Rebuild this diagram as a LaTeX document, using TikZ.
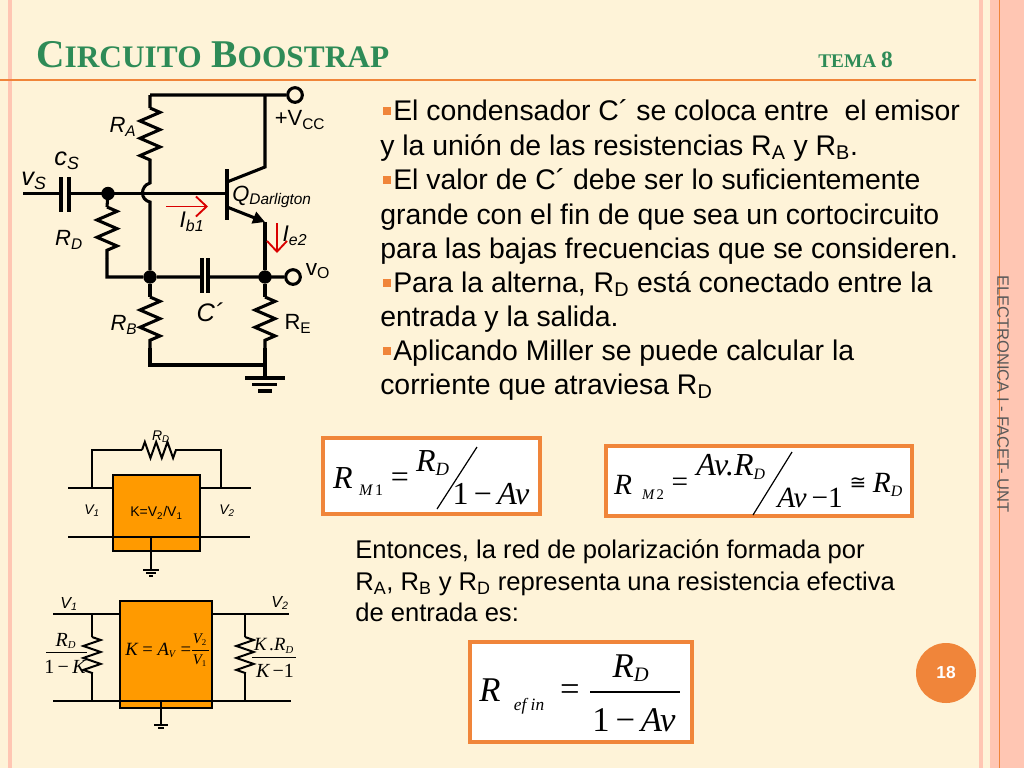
\documentclass[tikz,border=0pt]{standalone}
\usepackage{fontspec}
\setmainfont{Liberation Sans}
\newfontfamily\timesfam{Liberation Serif}
\usetikzlibrary{arrows.meta,decorations.pathmorphing}
\definecolor{creambg}{HTML}{FEF3D8}
\definecolor{pinkbar}{HTML}{FFC6B3}
\definecolor{orangeline}{HTML}{F0853A}
\definecolor{titlegreen}{HTML}{2E8B57}
\definecolor{amplibox}{HTML}{FF9A00}
\newcommand{\fs}[1]{\fontsize{#1}{#1}\selectfont}
\newcommand{\mi}[2]{{\timesfam\itshape\fs{#1}#2}}
\newcommand{\mr}[2]{{\timesfam\fs{#1}#2}}
\begin{document}
\begin{tikzpicture}[x=0.75pt,y=-0.75pt]
  \tikzstyle{wire}=[line width=2.3pt]
  \tikzstyle{thinwire}=[line width=1.5pt]
  \tikzstyle{resbig}=[wire,decorate,decoration={zigzag,amplitude=7.5pt,segment length=12.98pt}]
  \tikzstyle{ressmall}=[thinwire,decorate,decoration={zigzag,amplitude=6pt,segment length=8.48pt}]
  \tikzstyle{joindot}=[circle,fill=black,inner sep=0pt,minimum size=10pt]
  \tikzstyle{terminal}=[circle,draw,line width=2.3pt,fill=creambg,inner sep=0pt,minimum size=11pt]
  \tikzstyle{label}=[inner sep=0pt,font=\fs{16.5}]
  \tikzstyle{smalllabel}=[inner sep=0pt,font=\fs{10.5}]
  \tikzstyle{bodyline}=[inner sep=0pt,anchor=base west,font=\fs{21.3}]
  \tikzstyle{lowerline}=[inner sep=0pt,anchor=base west,font=\fs{19.2}]
  \tikzstyle{bulletmark}=[fill=orangeline,inner sep=0pt,minimum size=6pt]
  \tikzstyle{formulabox}=[draw=orangeline,line width=2.3pt,fill=white]
  \tikzstyle{amp}=[draw,line width=0.8pt,fill=amplibox]
  \tikzstyle{sym}=[inner sep=0pt]
  \tikzstyle{redarrow}=[red!85!black,line width=1.4pt,-{Straight Barb[length=8pt,width=15pt]}]

  % slide background
  \fill[creambg] (0,0) rectangle (1024,768);
  \useasboundingbox (0,0) rectangle (1024,768);
  \fill[pinkbar] (8,0) rectangle (12,768);
  \fill[pinkbar] (979,0) rectangle (983,768);
  \fill[pinkbar] (990,0) rectangle (1024,768);
  \draw[orangeline,line width=0.75pt] (999,0) -- (999,768);
  \draw[orangeline,line width=1.2pt] (0,80) -- (976,80);

  % title
  \node (title) [sym,anchor=base west,text=titlegreen] at (36,67)
    {\timesfam\bfseries\fs{29.5}C{\fs{23.5}IRCUITO} B{\fs{23.5}OOSTRAP}};
  \node (tema) [sym,anchor=base west,text=titlegreen] at (818,67)
    {\timesfam\bfseries\fs{14.5}TEMA \fs{17.5}8};
  \node (side) [sym,rotate=-90,font=\fs{12.4},text=black!65] at (1003,394) {ELECTRONICA I - FACET- UNT};

  % circuit points
  \foreach \name/\px/\py in {tl/150/95, cj/265/95, ra1/150/108, ra2/150/160, bumpa/150/183, bumpb/150/202,
      inl/23/193.5, csa/61/193.5, csb/69/193.5, qb/227/193.5, rd1/107/207, rd2/107/258, rdc/107/277,
      cpa/202/277, cpb/208/277, rb1/150/297, rb2/150/348, rbc/150/365, re1/265/297, re2/265/348,
      gnd/265/365, gndb/265/378, qc/227/182, qcu/265/167, qe/227/207, qeu/265/222,
      g1a/245/378, g1b/285/378, g2a/252/384.5, g2b/277/384.5, g3a/258/391, g3b/272/391,
      qbt/227/169, qbb/227/220, csat/61/177, csab/61/212, csbt/69/177, csbb/69/212,
      cpat/202/258, cpab/202/293, cpbt/208/258, cpbb/208/293,
      iba/166/206.5, ibb/208/206.5, iea/277/223, ieb/277/253}
  {
    \coordinate (\name) at (\px,\py);
  }
  \node (vcc) [terminal] at (295,95) {};
  \node (vo) [terminal] at (293,277) {};
  \node (ndin) [joindot] at (108,193.5) {};
  \node (ndb) [joindot] at (150,277) {};
  \node (nde) [joindot] at (265,277) {};

  \draw[wire] (tl) -- (vcc) (tl) -- (ra1) (ra2) -- (bumpa)
    .. controls (140,186) and (140,200) .. (bumpb) -- (ndb);
  \draw[resbig] (ra1) -- (ra2);
  \draw[wire] (inl) -- (csa) (csb) -- (qb);
  \draw[wire] (csat) -- (csab) (csbt) -- (csbb);
  \draw[wire] (ndin.center) -- (rd1) (rd2) -- (rdc) -- (ndb) -- (cpa) (cpb) -- (vo);
  \draw[resbig] (rd1) -- (rd2);
  \draw[wire] (cpat) -- (cpab) (cpbt) -- (cpbb);
  \draw[wire] (ndb) -- (rb1) (rb2) -- (rbc) -- (gnd) (nde) -- (re1) (re2) -- (gndb);
  \draw[resbig] (rb1) -- (rb2);
  \draw[resbig] (re1) -- (re2);
  \draw[wire] (g1a) -- (g1b) (g2a) -- (g2b) (g3a) -- (g3b);
  \draw[wire] (qbt) -- (qbb);
  \draw[line width=2.3pt] (qc) -- (qcu) -- (cj);
  \draw[line width=2.3pt,-{Stealth[length=9pt,width=9pt,inset=0pt]}] (qe) -- (qeu);
  \draw[wire] (qeu) -- (nde);
  \draw[redarrow] (iba) -- (ibb);
  \draw[redarrow] (iea) -- (ieb);

  \node (lvcc) [label] at (300,120) {+V\textsubscript{CC}};
  \node (lra) [label] at (123,127) {\itshape R\textsubscript{A}};
  \node (lcs) [label,font=\fs{19}] at (67,161) {\itshape c\textsubscript{S}};
  \node (lvs) [label,font=\fs{19}] at (34,181) {\itshape v\textsubscript{S}};
  \node (lrd) [label] at (69,240) {\itshape R\textsubscript{D}};
  \node (lib) [label,font=\fs{17}] at (192,222) {\itshape I\textsubscript{b1}};
  \node (lq) [label,anchor=west] at (232,197) {\itshape Q\textsubscript{Darligton}};
  \node (lie) [label,font=\fs{17}] at (295,236) {\itshape I\textsubscript{e2}};
  \node (lvo) [label,font=\fs{17}] at (318,271) {v\textsubscript{O}};
  \node (lcp) [label,font=\fs{19}] at (210,312) {\itshape C´};
  \node (lrb) [label] at (124,325) {\itshape R\textsubscript{B}};
  \node (lre) [label] at (298,324) {R\textsubscript{E}};

  % explanation
  \foreach \lx/\ly/\txt [count=\n] in {393/120/{El condensador C´ se coloca entre\ \ el emisor},
      380/155/{y la unión de las resistencias R\textsubscript{A} y R\textsubscript{B}.},
      393/189/{El valor de C´ debe ser lo suficientemente},
      380/224/{grande con el fin de que sea un cortocircuito},
      380/258/{para las bajas frecuencias que se consideren.},
      393/292/{Para la alterna, R\textsubscript{D} está conectado entre la},
      380/326/{entrada y la salida.},
      393/360/{Aplicando Miller se puede calcular la},
      380/394/{corriente que atraviesa R\textsubscript{D}}}
  {
    \node (body\n) [bodyline] at (\lx,\ly) {\txt};
  }
  \foreach \ly in {111, 180, 283, 351}
  {
    \node (mark\ly) [bulletmark] at (387,\ly) {};
  }
  \foreach \ly/\txt [count=\n] in {558/{Entonces, la red de polarización formada por},
      590/{R\textsubscript{A}, R\textsubscript{B} y R\textsubscript{D} representa una resistencia efectiva},
      621/{de entrada es:}}
  {
    \node (lower\n) [lowerline] at (355,\ly) {\txt};
  }

  % amplifier with feedback
  \foreach \name/\px/\py in {ain/68/488, ainb/113/488, aout/251/488, aoutb/200/488, afl/92/488, afr/221/488, aful/92/450, afur/221/450,
      arda/142/450, ardb/176/450, abl/68/537, abr/250/537, abm/151/537, agnd/151/570,
      ag1a/143/570, ag1b/159/570, ag2a/146/573, ag2b/156/573, ag3a/149/575.5, ag3b/153/575.5}
  {
    \coordinate (\name) at (\px,\py);
  }
  \node (kbox) [amp,minimum width=65.25pt,minimum height=57pt,inner sep=0pt,font=\fs{10.5}] at (156.5,513) {K=V\textsubscript{2}/V\textsubscript{1}};
  \draw[thinwire] (ain) -- (ainb) (aoutb) -- (aout);
  \draw[thinwire] (afl) -- (aful) -- (arda) (ardb) -- (afur) -- (afr);
  \draw[ressmall] (arda) -- (ardb);
  \draw[thinwire] (abl) -- (abr) (abm) -- (agnd);
  \draw[thinwire] (ag1a) -- (ag1b) (ag2a) -- (ag2b) (ag3a) -- (ag3b);
  \node (ard) [smalllabel] at (161,437) {\itshape R\textsubscript{D}};
  \node (av1) [smalllabel] at (92,511) {\itshape V\textsubscript{1}};
  \node (av2) [smalllabel] at (227,511) {\itshape V\textsubscript{2}};

  % equivalent with miller
  \foreach \name/\px/\py in {bin/53/614, binb/119/614, bout/289/614, boutb/213/614, bl/53/701, br/291/701, bgm/161/701, bgd/161/725,
      rl0/92/614, rl1/92/637, rl2/92/673, rl3/92/701, rr0/245/614, rr1/245/637, rr2/245/673, rr3/245/701,
      bg1a/154/725, bg1b/168/725, bg2a/158/728, bg2b/164/728, fla/46/652, flb/87/652, fra/252/657, frb/296/657,
      kfa/192/650, kfb/209/650}
  {
    \coordinate (\name) at (\px,\py);
  }
  \node (avbox) [amp,minimum width=69pt,minimum height=80.25pt,inner sep=0pt] at (166,654.5) {};
  \draw[thinwire] (bin) -- (binb) (boutb) -- (bout) (bl) -- (br) (bgm) -- (bgd);
  \draw[thinwire] (bg1a) -- (bg1b) (bg2a) -- (bg2b);
  \draw[thinwire] (rl0) -- (rl1) (rl2) -- (rl3) (rr0) -- (rr1) (rr2) -- (rr3);
  \tikzstyle{ressmall}=[thinwire,decorate,decoration={zigzag,amplitude=6.5pt,segment length=8.98pt}]
  \draw[ressmall] (rl1) -- (rl2);
  \draw[ressmall] (rr1) -- (rr2);
  \draw[line width=0.6pt] (fla) -- (flb) (fra) -- (frb);
  \draw[line width=0.5pt] (kfa) -- (kfb);
  \node (bv1) [smalllabel,font=\fs{12}] at (69,604) {\itshape V\textsubscript{1}};
  \node (bv2) [smalllabel,font=\fs{12}] at (280,603) {\itshape V\textsubscript{2}};
  \node (frd) [sym] at (66,641) {\mi{15}{R}\mi{12}{\textsubscript{D}}};
  \node (flk) [sym] at (65,667) {\mr{15}{1\,−\,}\mi{15}{K}};
  \node (frk) [sym] at (274,646) {\mi{14}{K\,.R}\mi{12}{\textsubscript{D}}};
  \node (fkm) [sym] at (275,671) {\mi{15}{K}\mr{15}{\,−1}};
  \node (fka) [sym,anchor=west] at (125,650) {\mi{14}{K}\mr{14}{ = }\mi{14}{A}\mi{11}{\textsubscript{V}}\mr{14}{ =}};
  \node (fkv2) [sym] at (200,640) {\mi{11}{V}\mr{9.5}{\textsubscript{2}}};
  \node (fkv1) [sym] at (200,661) {\mi{11}{V}\mr{9.5}{\textsubscript{1}}};

  % formula boxes
  \node (fb1) [formulabox,inner sep=0pt,minimum width=162.75pt,minimum height=57pt] at (431.5,476) {};
  \node (fb2) [formulabox,inner sep=0pt,minimum width=229.5pt,minimum height=52.5pt] at (759,481) {};
  \node (fb3) [formulabox,inner sep=0pt,minimum width=166.5pt,minimum height=75pt] at (581,692) {};

  \coordinate (sl1a) at (477,447);
  \coordinate (sl1b) at (437,509);
  \draw[line width=0.9pt] (sl1a) -- (sl1b);
  \node (r1) [sym] at (343,478) {\mi{24}{R}};
  \node (m1) [sym] at (371,490) {\mi{12}{M}\mr{12}{\,1}};
  \node (eq1) [sym] at (400,480) {\mr{24}{=}};
  \node (rd1t) [sym] at (433,463) {\mi{24}{R}\mi{20}{\textsubscript{D}}};
  \node (av1t) [sym] at (491,494) {\mr{24}{1\,−\,}\mi{24}{Av}};

  \coordinate (sl2a) at (792,452);
  \coordinate (sl2b) at (753,515);
  \draw[line width=0.9pt] (sl2a) -- (sl2b);
  \node (r2) [sym] at (623,485) {\mi{22}{R}};
  \node (m2) [sym] at (653,495) {\mi{11}{M}\mr{11}{\,2}};
  \node (eq2) [sym] at (680,485) {\mr{22}{=}};
  \node (av2t) [sym] at (731,467) {\mi{24}{Av.R}\mi{17}{\textsubscript{D}}};
  \node (av2b) [sym] at (810,498) {\mi{22}{Av}\mr{22}{\,−1}};
  \node (cong) [sym] at (858,484) {\fontspec{DejaVu Sans}\fs{15}≅};
  \node (rd2t) [sym] at (888,485) {\mi{22}{R}\mi{17}{\textsubscript{D}}};

  \coordinate (fr3a) at (590,692);
  \coordinate (fr3b) at (680,692);
  \draw[line width=1.1pt] (fr3a) -- (fr3b);
  \node (r3) [sym] at (490,690) {\mi{26}{R}};
  \node (ef3) [sym] at (529,706) {\mi{13}{ef\ in}};
  \node (eq3) [sym] at (570,693) {\mr{26}{=}};
  \node (rd3) [sym] at (631,668) {\mi{26}{R}\mi{22}{\textsubscript{D}}};
  \node (av3) [sym] at (634,720) {\mr{26}{1\,−\,}\mi{26}{Av}};

  % page number
  \node (pagenum) [circle,fill=orangeline,text=white,minimum size=45pt,inner sep=0pt,font=\fs{13}\bfseries] at (946,673) {18};
\end{tikzpicture}
\end{document}
